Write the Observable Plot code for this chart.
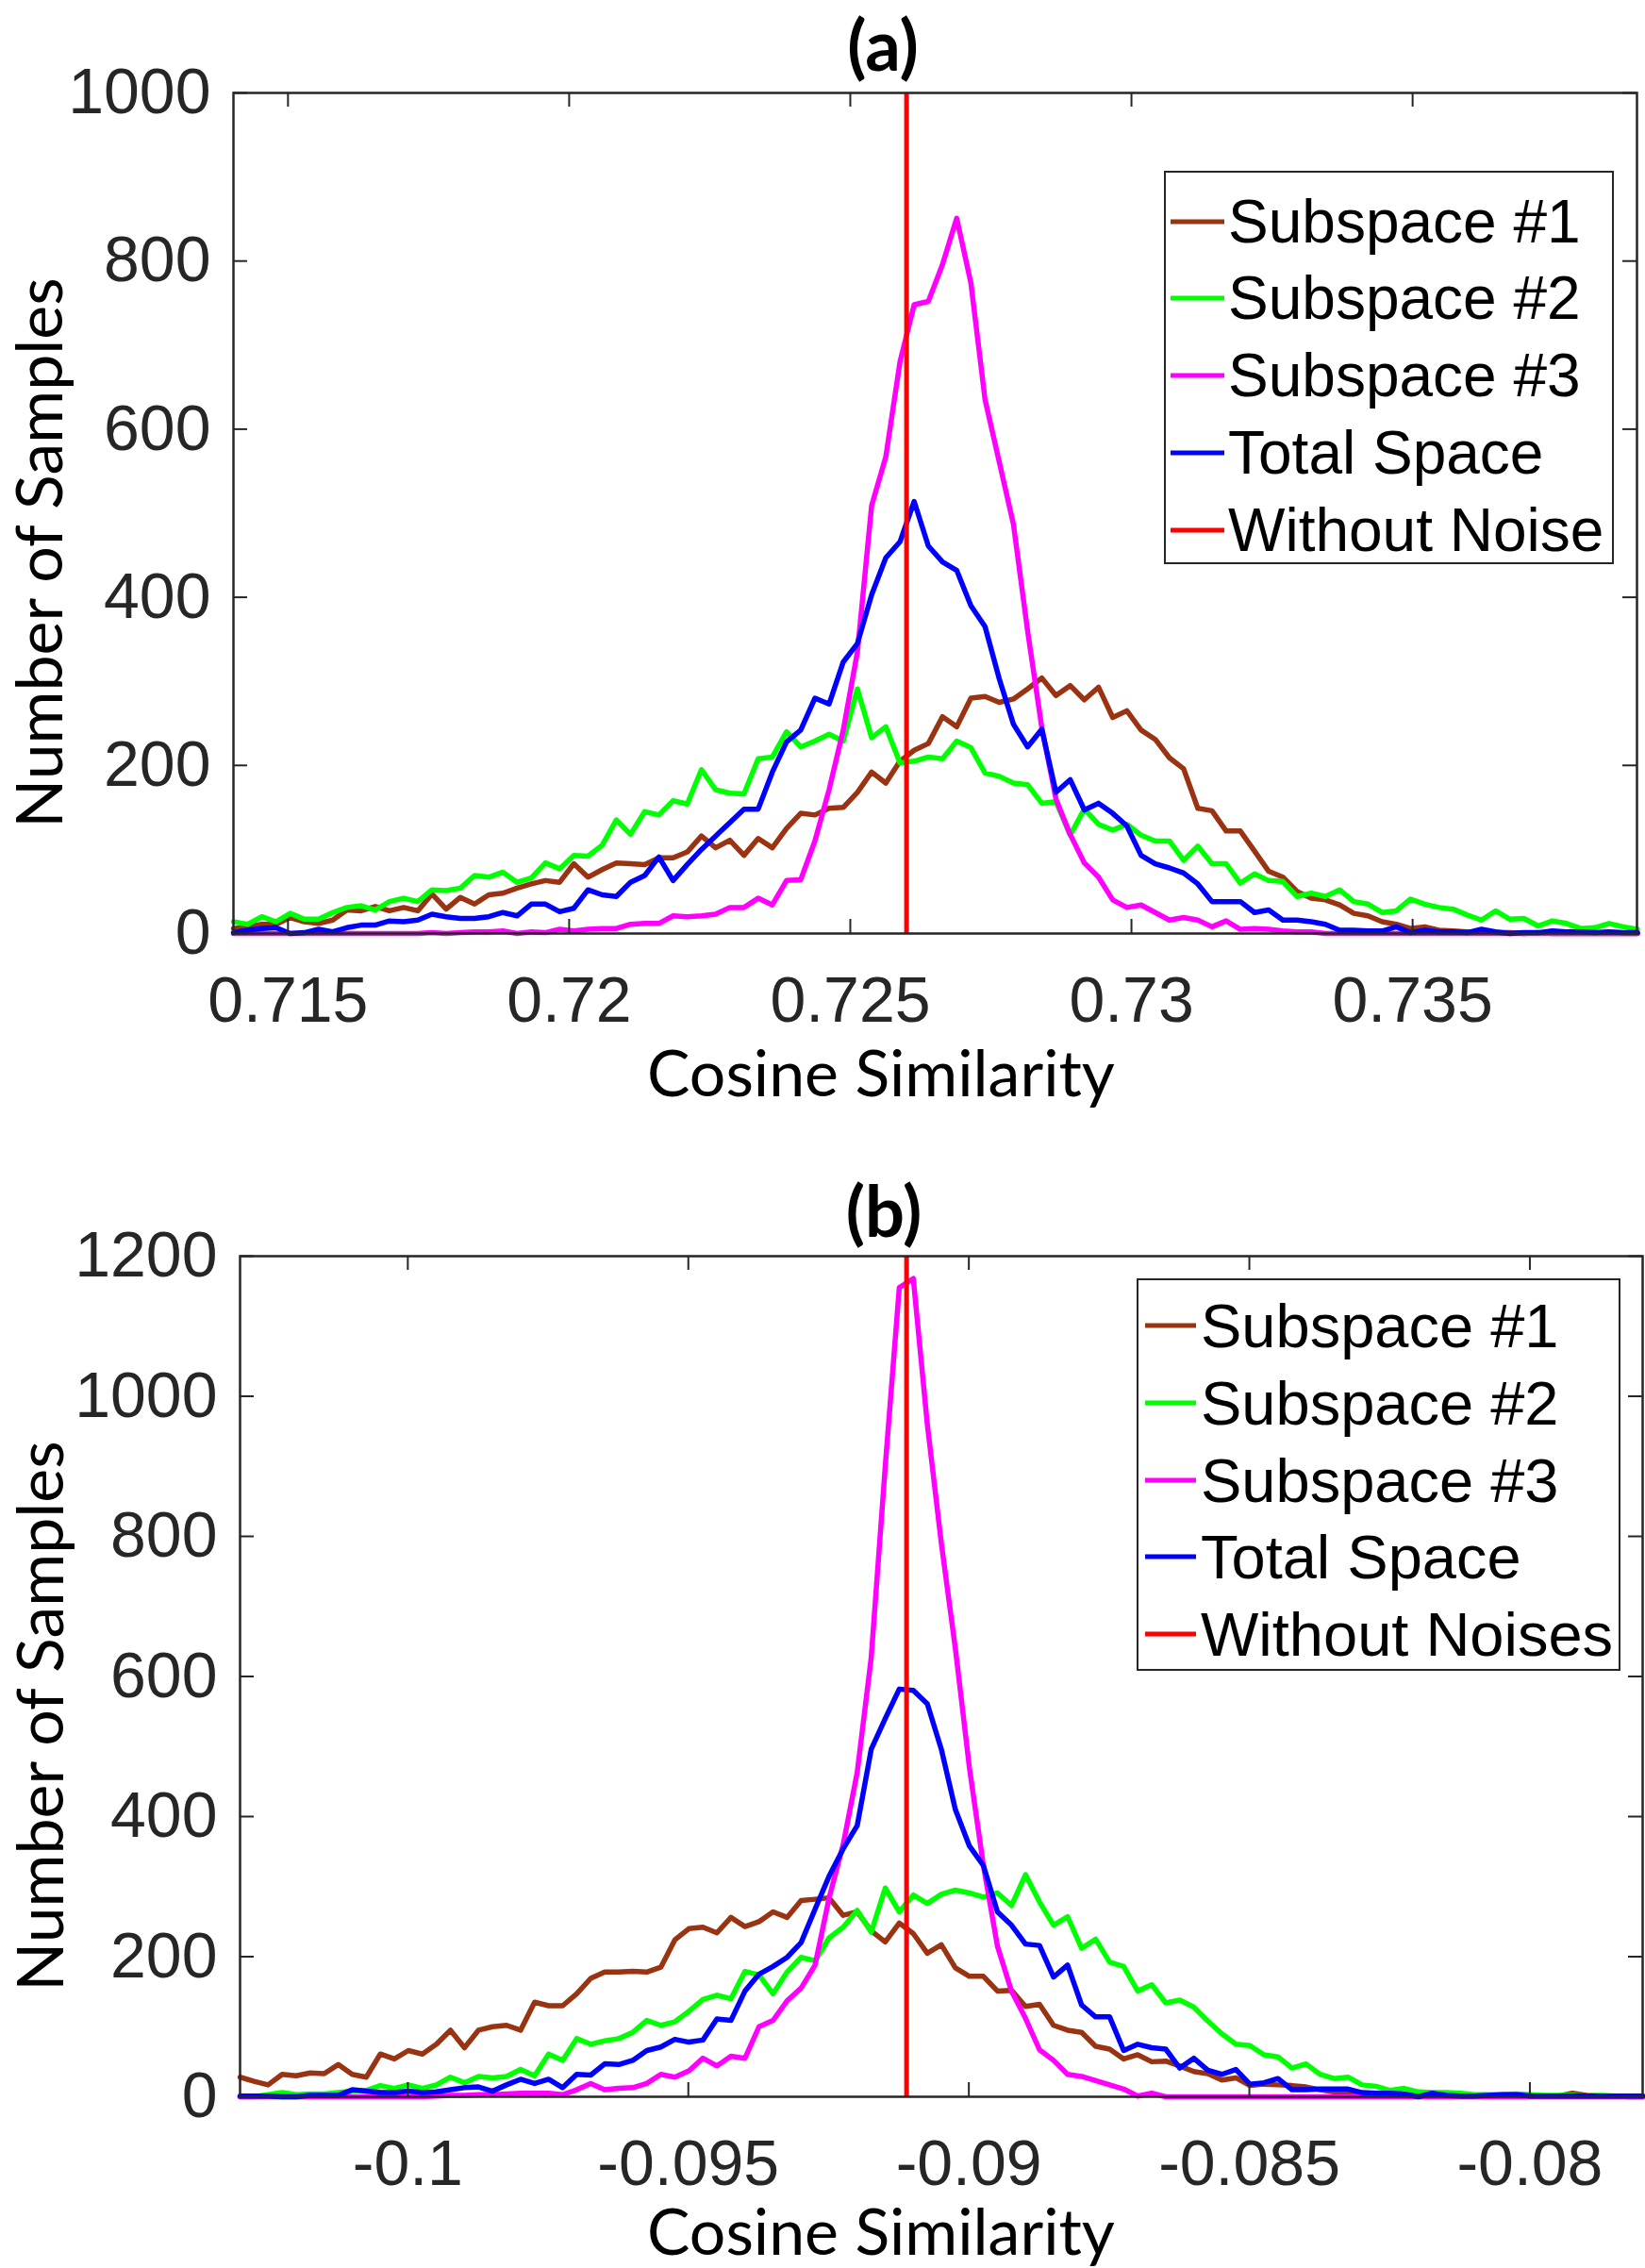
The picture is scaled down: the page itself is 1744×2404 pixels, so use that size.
<!DOCTYPE html>
<html><head><meta charset="utf-8">
<script src="https://cdn.jsdelivr.net/npm/d3@7"></script>
<script src="https://cdn.jsdelivr.net/npm/@observablehq/plot@0.6"></script>
<style>
body{margin:0;background:#fff;}
#wrap{position:relative;width:1744px;height:2404px;overflow:hidden;background:#fff;}
.abs{position:absolute;white-space:nowrap;line-height:1;}
.lbl{font-family:Lato,"Open Sans",sans-serif;color:#000;}
.ttl{font-family:Lato,sans-serif;font-weight:700;color:#000;}
.leg{position:absolute;box-sizing:border-box;border:2px solid #262626;background:#fff;}
.sw{position:absolute;height:5px;transform:translateY(-50%);}
.lt{position:absolute;font-family:"Liberation Sans",Arial,sans-serif;transform:translateY(-50%);line-height:1;color:#000;white-space:nowrap;}
</style></head><body><div id="wrap"></div>
<script>
const seriesNames = ["Subspace #1","Subspace #2","Subspace #3","Total Space"];
const seriesColors = ["#993311","#00ff00","#ff00ff","#0000ff"];
const refColor = "#ff0000";

// ---------- panel (a) ----------
const aTitle = "(a)";
const aRefLabel = "Without Noise";
const aBinStart = 0.71403, aBinWidth = 0.0002522;
const aXDomain = [0.71403, 0.73899];
const aYDomain = [0, 1000];
const aXTicks = [0.715, 0.72, 0.725, 0.73, 0.735];
const aYTicks = [0, 200, 400, 600, 800, 1000];
const aRef = 0.726;
const aS1 = [6,8,11,11,19,14,12,16,28,27, 32,27,31,27,47,29,43,35,46,48, 54,59,63,61,83,67,76,84,83,82, 90,90,97,116,102,111,93,113,102,125, 143,141,149,150,168,192,179,205,218,226, 258,246,280,282,275,279,291,304,283,295, 278,293,257,265,242,231,209,196,149,146, 122,122,98,74,67,50,42,40,34,24, 21,14,11,6,8,4,3,2,2,1, 1,0,1,0,0,0,0,0,0,0];
const aS2 = [14,11,20,14,24,17,17,25,31,33, 28,38,42,38,52,51,54,69,67,73, 61,66,84,77,93,92,105,135,118,145, 141,158,154,195,171,167,166,208,210,240, 222,229,237,229,291,233,246,203,205,210, 208,229,221,191,187,179,177,155,157,117, 148,130,123,130,117,110,110,87,104,83, 83,60,71,63,62,44,48,44,52,38, 35,25,27,41,35,31,29,22,16,27, 17,18,9,15,12,6,7,12,8,5];
const aS3 = [0,0,0,0,0,0,0,0,0,0, 0,0,0,0,1,0,1,2,2,3, 0,2,1,5,3,5,6,6,11,12, 12,21,20,21,23,31,31,42,34,63, 64,110,171,242,335,509,567,680,748,752, 796,851,774,635,561,487,360,245,160,118, 84,67,40,31,34,25,16,19,16,8, 15,5,6,5,3,2,2,0,0,0, 0,0,0,0,0,0,0,0,0,0, 0,0,0,0,0,0,0,0,0,0];
const aTot = [1,4,6,7,0,1,5,2,7,10, 10,15,14,16,23,20,18,18,20,25, 21,35,35,26,30,52,46,44,61,69, 91,63,82,100,116,132,148,148,192,228, 242,280,273,323,345,403,447,466,514,461, 442,432,390,365,303,249,222,243,168,183, 147,155,143,128,93,83,78,72,59,38, 38,38,25,28,16,16,14,11,4,4, 3,3,8,1,4,2,2,1,5,2, 0,1,1,3,2,2,1,2,1,1];

// ---------- panel (b) ----------
const bTitle = "(b)";
const bRefLabel = "Without Noises";
const bBinStart = -0.10299, bBinWidth = 0.00025;
const bXDomain = [-0.10299, -0.07799];
const bYDomain = [0, 1200];
const bXTicks = [-0.1, -0.095, -0.09, -0.085, -0.08];
const bYTicks = [0, 200, 400, 600, 800, 1000, 1200];
const bRef = -0.09111;
const bS1 = [28,22,17,32,30,34,33,46,32,28, 61,54,66,61,75,95,70,95,100,102, 95,135,130,130,147,169,178,178,179,178, 185,224,240,242,234,256,243,250,264,256, 280,282,284,259,264,237,221,248,233,205, 217,184,172,172,151,152,129,132,102,95, 92,72,68,54,60,50,51,44,36,33, 24,27,16,18,17,16,14,10,7,6, 5,5,3,2,2,2,1,1,1,2, 1,1,1,1,1,5,2,1,1,0, 0];
const bS2 = [0,0,3,6,3,4,4,6,8,9, 16,12,17,12,17,28,20,29,27,29, 39,30,61,52,83,75,80,83,92,109, 102,107,122,139,145,140,179,174,147,178, 199,194,227,242,266,235,298,264,288,276, 289,295,291,285,291,273,317,278,245,257, 212,225,192,186,151,160,134,138,128,108, 90,75,73,60,57,41,47,32,26,28, 17,15,9,12,7,6,6,5,3,3, 3,4,3,2,2,2,1,2,1,1, 1];
const bS3 = [0,0,0,0,0,0,0,0,0,0, 0,0,0,0,1,2,2,3,3,4, 5,5,5,3,10,19,10,12,13,19, 32,28,37,55,44,58,55,100,109,137, 155,188,284,360,463,627,900,1155,1168,960, 790,640,470,330,215,151,112,67,52,32, 29,23,17,11,1,5,0,0,0,0, 0,0,0,0,0,0,0,0,0,0, 0,0,0,0,0,0,0,0,0,0, 0,0,0,0,0,0,0,0,0,0, 0];
const bTot = [1,1,1,0,0,2,2,2,10,8, 6,6,8,6,7,10,13,14,8,17, 25,19,25,13,32,31,47,46,52,66, 71,82,78,81,111,109,151,175,186,199, 220,268,315,354,387,496,540,582,580,561, 496,410,358,330,264,245,218,216,171,188, 131,114,114,66,75,70,68,41,55,38, 32,39,18,20,26,10,10,11,11,11, 6,5,5,4,0,5,2,1,1,2, 3,3,1,1,1,1,1,1,1,1, 1];

const xLabel = "Cosine Similarity";
const yLabel = "Number of Samples";

const wrap = document.getElementById("wrap");
const fmt = d => String(+(+d).toFixed(4));
const W = 1744;

function panel(cfg) {
  const rows = [];
  cfg.series.forEach((vals, s) => vals.forEach((v, i) =>
    rows.push({s: seriesNames[s], x: cfg.binStart + i * cfg.binWidth, y: v})));
  const innerH = cfg.height - cfg.mt - cfg.mb;
  const innerW = W - cfg.ml - cfg.mr;
  const tk = 15;
  const axisStyle = {fontSize: 68, fontFamily: "Liberation Sans, Arial, sans-serif", color: "#262626"};
  const svg = Plot.plot({
    width: W, height: cfg.height,
    marginTop: cfg.mt, marginBottom: cfg.mb, marginLeft: cfg.ml, marginRight: cfg.mr,
    x: {domain: cfg.xDomain},
    y: {domain: cfg.yDomain},
    color: {domain: seriesNames, range: seriesColors},
    style: {background: "transparent", overflow: "visible"},
    marks: [
      Plot.line(rows, {x: "x", y: "y", z: "s", stroke: "s", strokeWidth: 5.5, strokeLinejoin: "round"}),
      Plot.ruleX([cfg.ref], {stroke: refColor, strokeWidth: 5}),
      Plot.ruleX(cfg.xTicks, {stroke: "#262626", strokeWidth: 2, insetTop: innerH - tk}),
      Plot.ruleX(cfg.xTicks, {stroke: "#262626", strokeWidth: 2, insetBottom: innerH - tk}),
      Plot.ruleY(cfg.yTicks, {stroke: "#262626", strokeWidth: 2, insetRight: innerW - tk}),
      Plot.ruleY(cfg.yTicks, {stroke: "#262626", strokeWidth: 2, insetLeft: innerW - tk}),
      Plot.frame({stroke: "#262626", strokeWidth: 2.5}),
      Plot.axisX(cfg.xTicks, {tickSize: 0, tickPadding: 45, tickFormat: fmt, label: null, ...axisStyle}),
      Plot.axisY(cfg.yTicks, {tickSize: 0, tickPadding: 24, tickFormat: d => String(d), label: null, ...axisStyle})
    ]
  });
  svg.style.position = "absolute";
  svg.style.left = "0px";
  svg.style.top = cfg.top + "px";
  wrap.appendChild(svg);
}

function text(str, cls, x, y, size, rotate) {
  const d = document.createElement("div");
  d.className = "abs " + cls;
  d.textContent = str;
  d.style.left = x + "px";
  d.style.top = y + "px";
  d.style.fontSize = size + "px";
  d.style.transform = "translate(-50%,-50%)" + (rotate ? " rotate(" + rotate + "deg)" : "");
  wrap.appendChild(d);
}

function legend(cfg) {
  const box = document.createElement("div");
  box.className = "leg";
  box.style.left = cfg.left + "px";
  box.style.top = cfg.top + "px";
  box.style.width = cfg.w + "px";
  box.style.height = cfg.h + "px";
  const labels = [...seriesNames, cfg.refLabel];
  const colors = [...seriesColors, refColor];
  labels.forEach((lab, k) => {
    const y = cfg.rowY[k];
    const sw = document.createElement("div");
    sw.className = "sw";
    sw.style.left = cfg.swLeft + "px";
    sw.style.width = cfg.swW + "px";
    sw.style.top = y + "px";
    sw.style.background = colors[k];
    box.appendChild(sw);
    const t = document.createElement("div");
    t.className = "lt";
    t.style.left = cfg.textLeft + "px";
    t.style.top = y + "px";
    t.style.fontSize = cfg.fs + "px";
    t.textContent = lab;
    box.appendChild(t);
  });
  wrap.appendChild(box);
}

// panel (a)
panel({series: [aS1, aS2, aS3, aTot], binStart: aBinStart, binWidth: aBinWidth,
  xDomain: aXDomain, yDomain: aYDomain, xTicks: aXTicks, yTicks: aYTicks, ref: aRef,
  top: 0, height: 1200, mt: 98, mb: 211, ml: 247, mr: 9});
text(aTitle, "ttl", 936, 47, 74);
text(xLabel, "lbl", 934, 1136, 68);
text(yLabel, "lbl", 40, 586, 68, -90);
legend({left: 1234, top: 181, w: 477, h: 417, rowY: [52, 133, 215, 297, 379],
  swLeft: 5, swW: 57, textLeft: 66, fs: 64, refLabel: aRefLabel});

// panel (b)
panel({series: [bS1, bS2, bS3, bTot], binStart: bBinStart, binWidth: bBinWidth,
  xDomain: bXDomain, yDomain: bYDomain, xTicks: bXTicks, yTicks: bYTicks, ref: bRef,
  top: 1200, height: 1204, mt: 131, mb: 182, ml: 254, mr: 3});
text(bTitle, "ttl", 937, 1283, 74);
text(xLabel, "lbl", 934, 2364, 68);
text(yLabel, "lbl", 41, 1819, 68, -90);
legend({left: 1205, top: 1355, w: 513, h: 416, rowY: [48, 130, 212, 293, 375],
  swLeft: 7, swW: 54, textLeft: 66, fs: 65, refLabel: bRefLabel});
</script></body></html>
